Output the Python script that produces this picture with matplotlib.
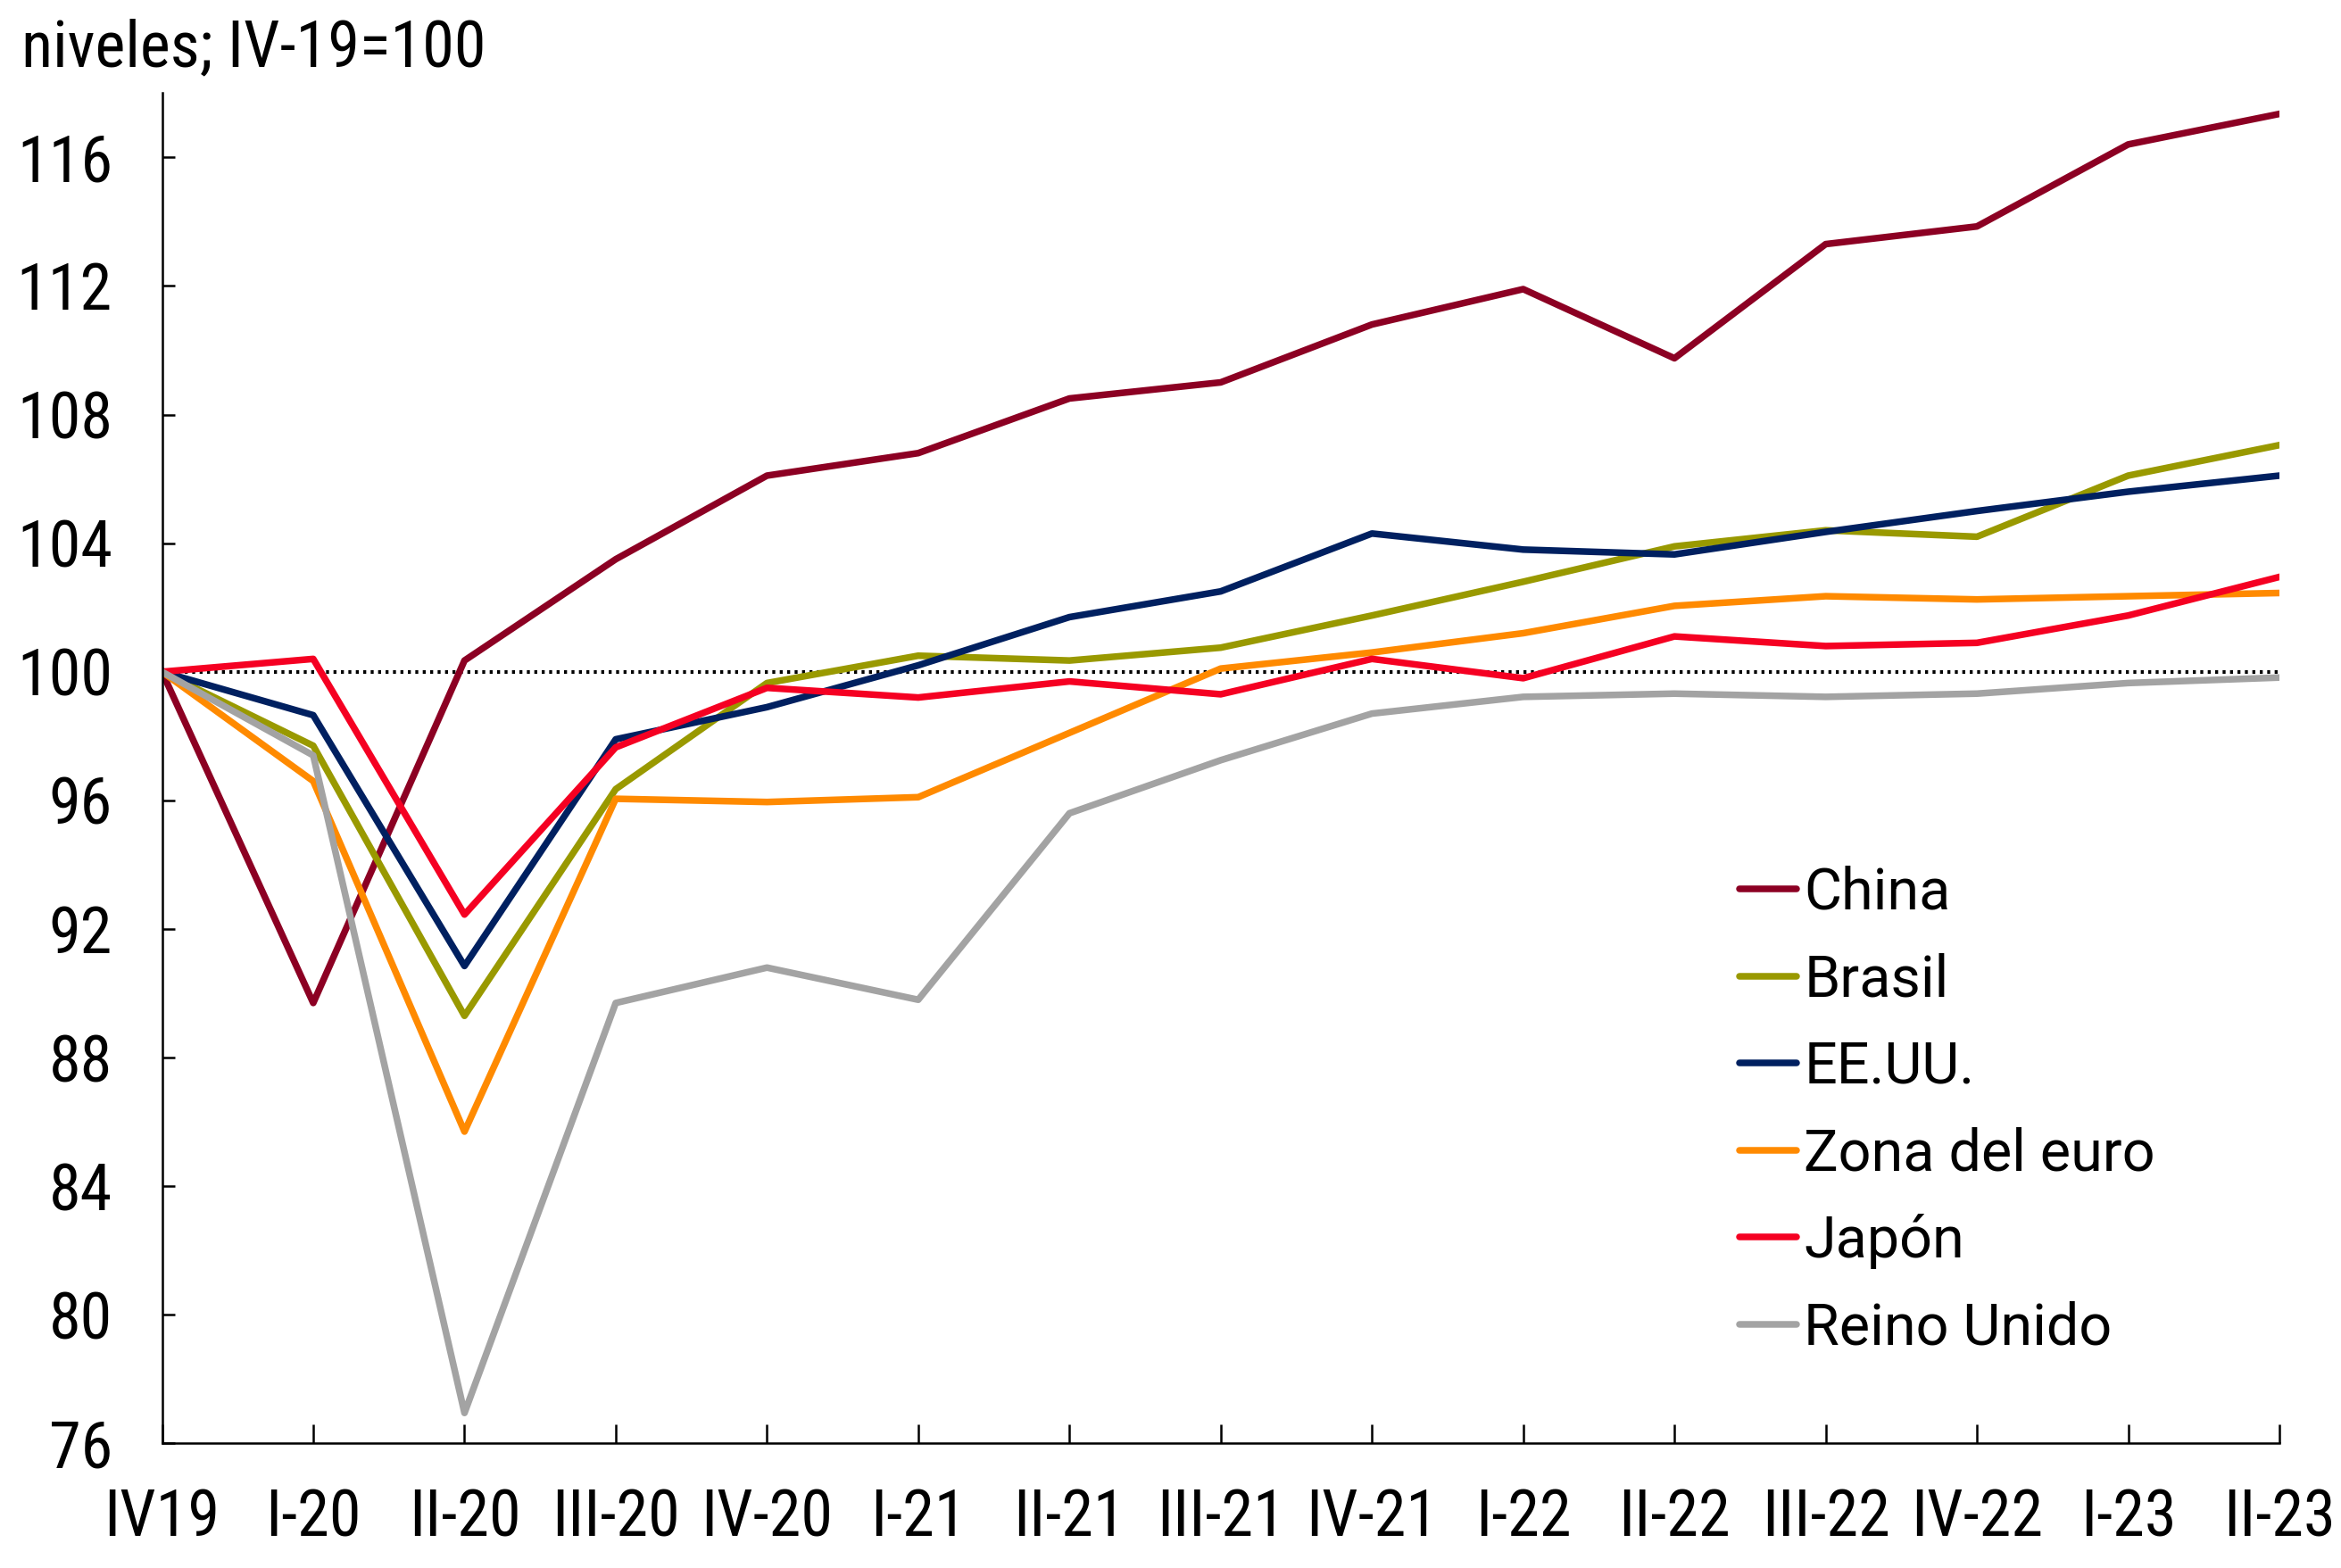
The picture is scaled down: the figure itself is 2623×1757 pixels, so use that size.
import matplotlib
matplotlib.use("Agg")
import matplotlib.pyplot as plt
from matplotlib import font_manager

plt.rcParams['font.family'] = ['Roboto', 'DejaVu Sans']

# look for a condensed face for ticks / title
cond = None
names = sorted({f.name for f in font_manager.fontManager.ttflist})
for cand in ["Roboto Condensed", "Liberation Sans Narrow", "Open Sans Condensed",
             "DejaVu Sans Condensed"]:
    if cand in names:
        cond = cand
        break
cond_stretch = None
if cond is None:
    for f in font_manager.fontManager.ttflist:
        if f.name == "Roboto" and f.stretch not in ("normal", 500):
            cond_stretch = f.stretch
            break

quarters = ["IV19", "I-20", "II-20", "III-20", "IV-20", "I-21", "II-21", "III-21",
            "IV-21", "I-22", "II-22", "III-22", "IV-22", "I-23", "II-23"]

china = [100, 89.7, 100.35, 103.5, 106.1, 106.8, 108.5, 109.0,
         110.8, 111.9, 109.75, 113.3, 113.85, 116.4, 117.35]
brasil = [100, 97.7, 89.3, 96.35, 99.65, 100.5, 100.35, 100.75,
          101.75, 102.8, 103.9, 104.4, 104.2, 106.1, 107.05]
eeuu = [100, 98.65, 90.85, 97.9, 98.9, 100.2, 101.7, 102.5,
        104.3, 103.8, 103.65, 104.35, 105.0, 105.6, 106.1]
zona_euro = [100, 96.6, 85.7, 96.05, 95.95, 96.1, 98.1, 100.1,
             100.6, 101.2, 102.05, 102.35, 102.25, 102.35, 102.45]
japon = [100, 100.4, 92.45, 97.65, 99.5, 99.2, 99.7, 99.3,
         100.4, 99.8, 101.1, 100.8, 100.9, 101.75, 102.95]
reino_unido = [100, 97.4, 76.95, 89.7, 90.8, 89.8, 95.6, 97.25,
               98.7, 99.22, 99.32, 99.22, 99.32, 99.65, 99.82]

series_names = ["China", "Brasil", "EE.UU.", "Zona del euro", "Japón", "Reino Unido"]
series_values = [china, brasil, eeuu, zona_euro, japon, reino_unido]
series_colors = ["#8C0023", "#999900", "#002060", "#FF8A00", "#F50022", "#A3A3A3"]

y_ticks = [76, 80, 84, 88, 92, 96, 100, 104, 108, 112, 116]

fig = plt.figure(figsize=(26.23, 17.57), dpi=100)
ax = fig.add_axes([0.0692, 0.0794, 0.9045, 0.8613])

x = list(range(len(quarters)))
ax.axhline(100, color="black", linestyle=(0, (0.8, 1.2)), linewidth=3.0, zorder=1)

for name, vals, col in zip(series_names, series_values, series_colors):
    ax.plot(x, vals, color=col, linewidth=5.4, label=name, zorder=2)

ax.set_xlim(0, len(quarters) - 1)
ax.set_ylim(76, 118)
ax.set_yticks(y_ticks)
ax.set_xticks(x)
ax.set_xticklabels(quarters)

for s in ["top", "right"]:
    ax.spines[s].set_visible(False)
for s in ["left", "bottom"]:
    ax.spines[s].set_linewidth(1.8)
    ax.spines[s].set_color("black")

if cond is not None:
    tick_font = dict(family=[cond, 'Roboto', 'DejaVu Sans'], size=52)
elif cond_stretch is not None:
    tick_font = dict(family=['Roboto', 'DejaVu Sans'], size=52, stretch=cond_stretch)
else:
    tick_font = dict(family=['Roboto', 'DejaVu Sans'], size=47)

ax.tick_params(axis="y", direction="in", length=10, width=1.8, pad=40)
ax.tick_params(axis="x", direction="in", length=15, width=1.8, pad=36)
for lab in ax.get_xticklabels() + ax.get_yticklabels():
    lab.set_fontproperties(font_manager.FontProperties(**tick_font))

fig.text(0.009, 0.969, "niveles; IV-19=100", ha="left", va="center",
         fontproperties=font_manager.FontProperties(**tick_font))

leg = ax.legend(loc="upper left", bbox_to_anchor=(0.7430, 0.448),
                bbox_transform=fig.transFigure, frameon=False, fontsize=46.5,
                handlelength=1.0, handletextpad=0.12, labelspacing=0.55,
                borderpad=0, borderaxespad=0)
for line in leg.get_lines():
    line.set_linewidth(5.4)
    line.set_solid_capstyle("round")

fig.savefig("out.png", dpi=100, facecolor="white")
